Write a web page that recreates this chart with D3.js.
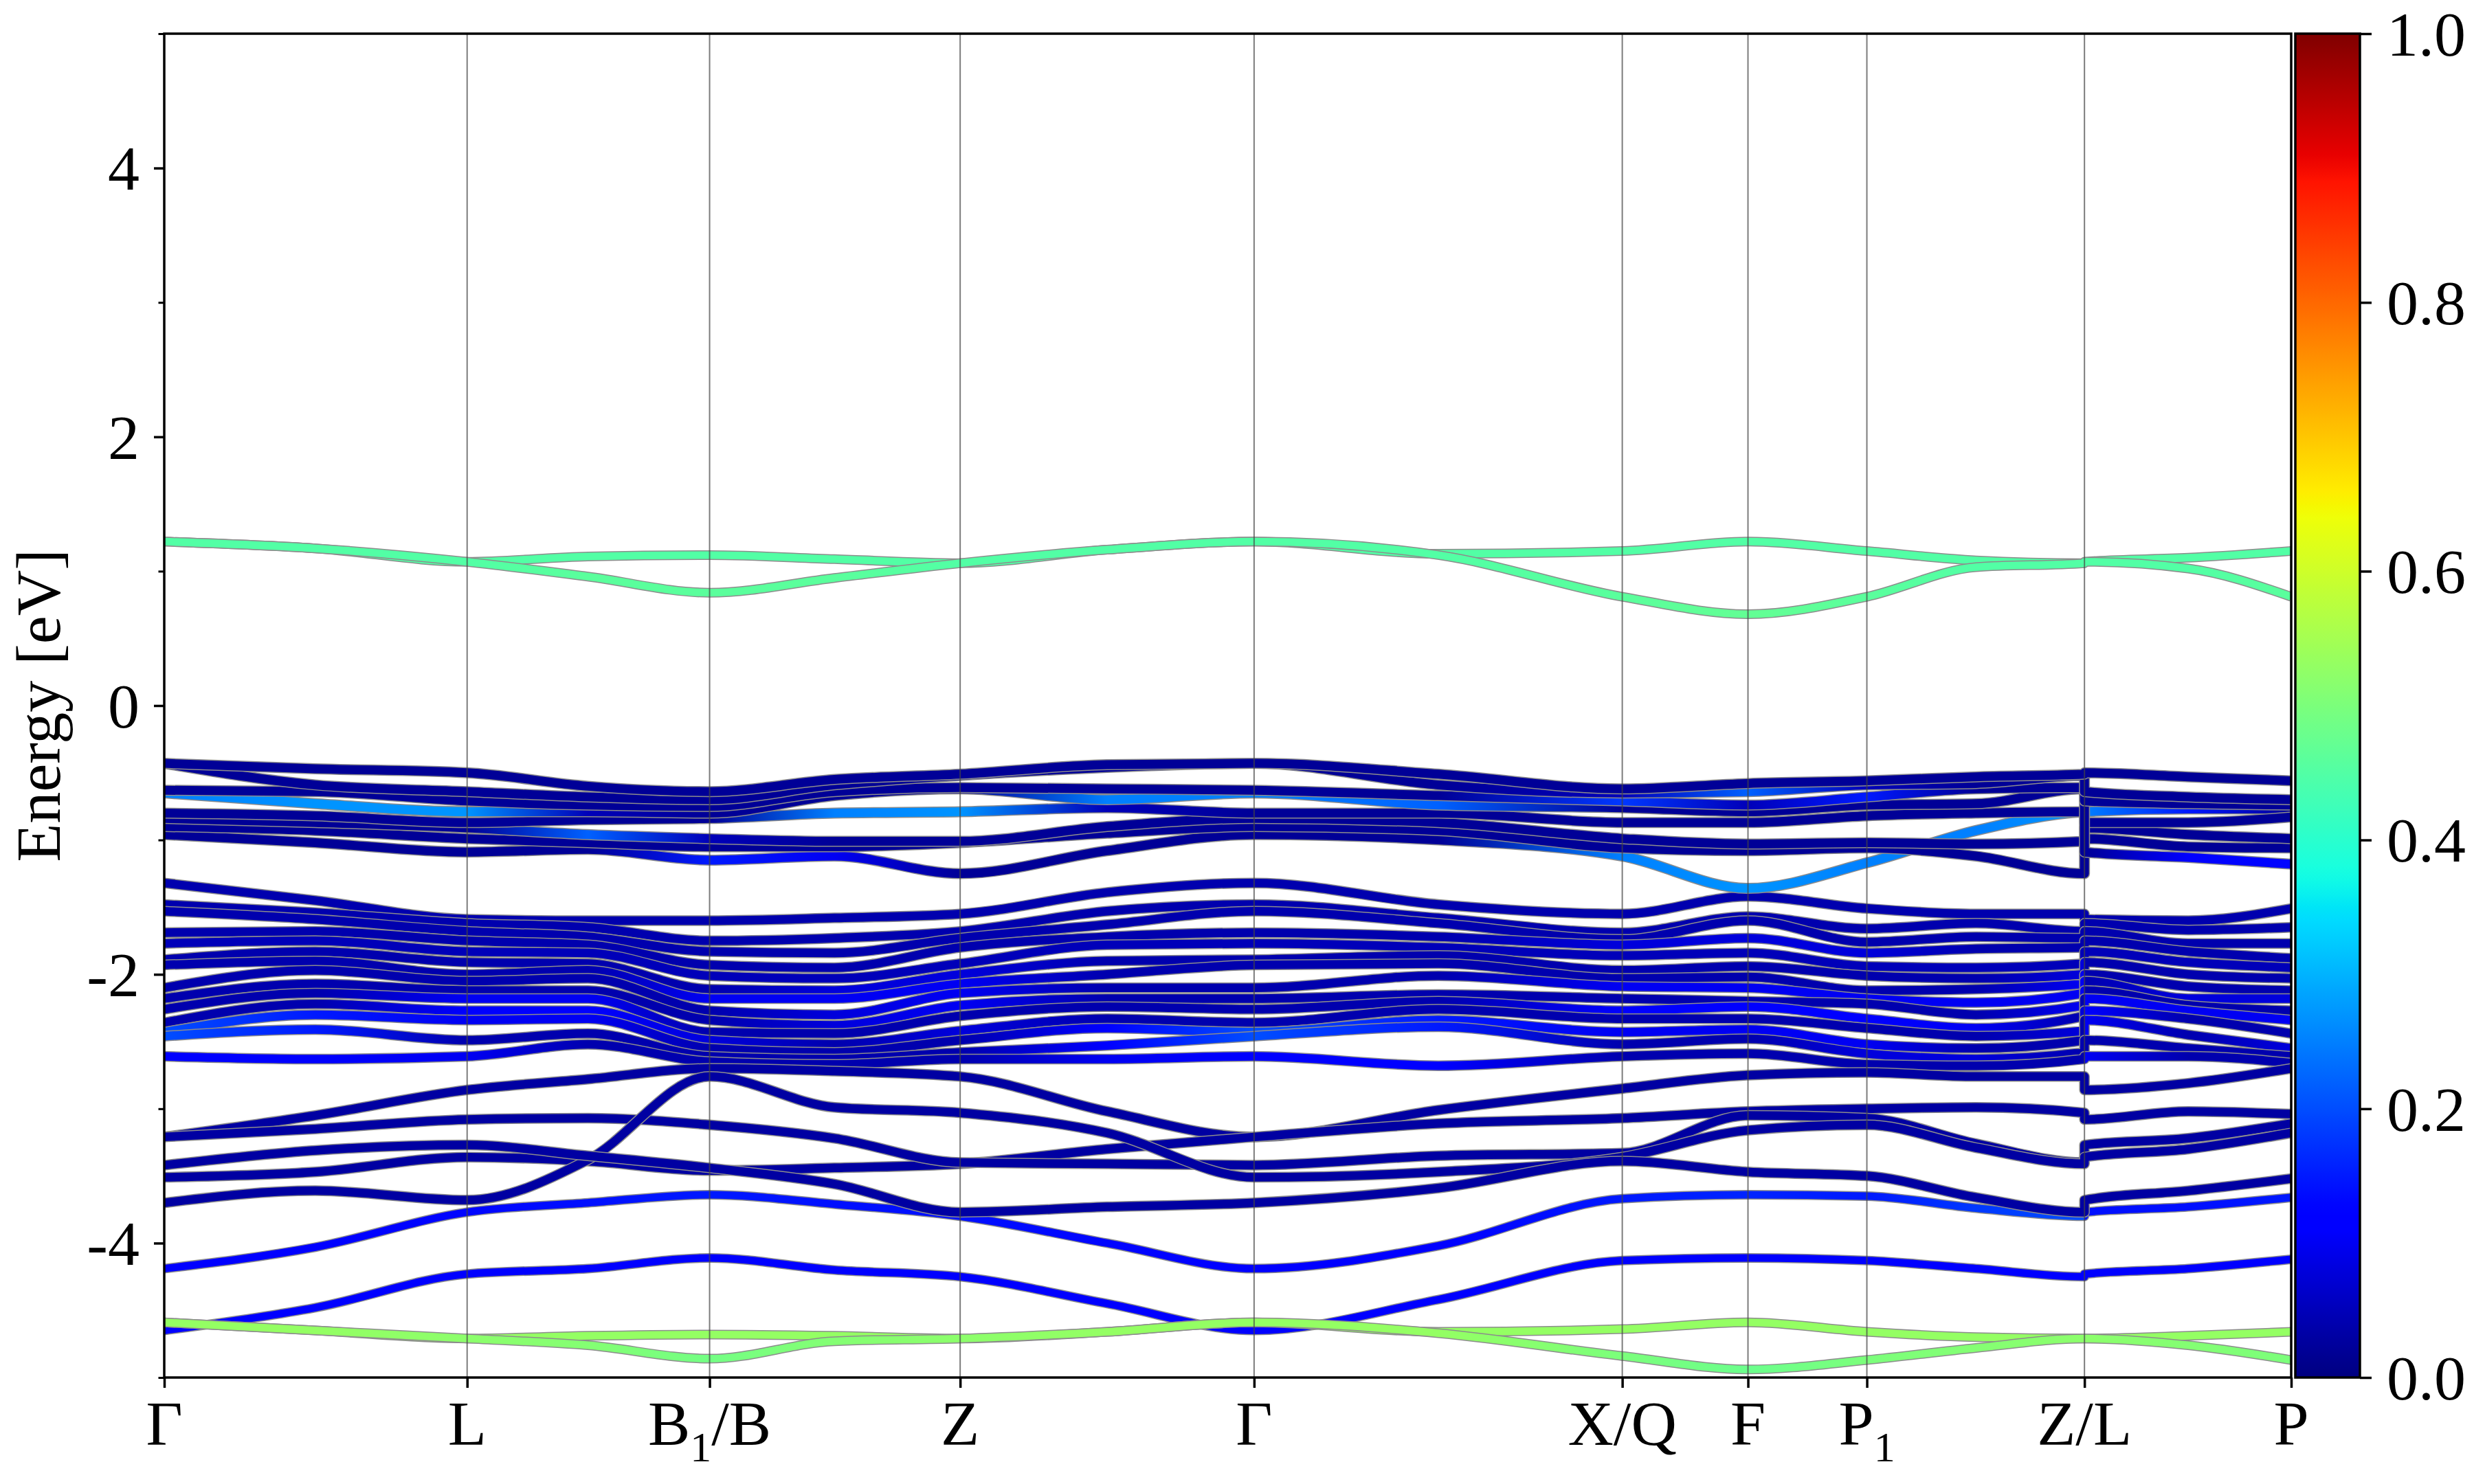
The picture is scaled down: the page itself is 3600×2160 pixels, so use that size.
<!DOCTYPE html>
<html><head><meta charset="utf-8">
<script src="https://cdn.jsdelivr.net/npm/d3@7/dist/d3.min.js"></script>
<style>
html,body{margin:0;padding:0;background:#fff;}
svg{display:block;}
</style></head><body>
<svg id="chart" width="3600" height="2160"></svg>
<script>
// ---------------- DATA ----------------
const kLabels = ["Γ","L","B_1/B","Z","Γ","X/Q","F","P_1","Z/L","P"];
const kTicks  = [0, 0.1424, 0.2564, 0.3742, 0.5124, 0.6855, 0.7446, 0.8005, 0.9028, 1.0];
// sampling points along the path (Z/L appears twice: end of Z branch, start of L branch)
const kNodes  = [0, 0.0710, 0.1424, 0.1992, 0.2564, 0.3151, 0.3742, 0.4433, 0.5124, 0.5990,
                 0.6855, 0.7446, 0.8005, 0.8518, 0.9028, 0.9028, 0.9516, 1.0];
const yMajor  = [-4, -2, 0, 2, 4];
const yMinor  = [-5, -3, -1, 1, 3, 5];
const cbTicks = [0, 0.2, 0.4, 0.6, 0.8, 1.0];

const conductionBands = [
 [1.22,1.17,1.07,1.11,1.12,1.09,1.06,1.16,1.22,1.13,1.15,1.22,1.15,1.08,1.06,1.07,1.10,1.15],
 [1.22,1.17,1.07,0.96,0.84,0.95,1.06,1.16,1.22,1.12,0.81,0.68,0.81,1.03,1.06,1.07,1.02,0.81]
];
const conductionWeights = [
 [0.45,0.45,0.45,0.45,0.45,0.45,0.45,0.45,0.45,0.45,0.45,0.45,0.45,0.45,0.45,0.45,0.45,0.45],
 [0.45,0.45,0.45,0.46,0.46,0.46,0.45,0.45,0.45,0.45,0.46,0.47,0.46,0.45,0.45,0.45,0.45,0.46]
];

const topBands = [
 [-0.43,-0.47,-0.50,-0.60,-0.64,-0.55,-0.51,-0.44,-0.43,-0.51,-0.62,-0.58,-0.56,-0.53,-0.51,-0.50,-0.53,-0.56],
 [-0.43,-0.59,-0.64,-0.68,-0.70,-0.59,-0.52,-0.46,-0.43,-0.59,-0.65,-0.64,-0.59,-0.58,-0.52,-0.64,-0.68,-0.70],
 [-0.63,-0.64,-0.71,-0.74,-0.75,-0.64,-0.61,-0.62,-0.63,-0.67,-0.71,-0.74,-0.68,-0.62,-0.61,-0.71,-0.73,-0.74],
 [-0.65,-0.73,-0.79,-0.79,-0.80,-0.67,-0.62,-0.70,-0.65,-0.74,-0.76,-0.79,-0.74,-0.73,-0.62,-1.09,-1.13,-1.18],
 [-0.80,-0.82,-0.87,-0.85,-0.84,-0.80,-0.79,-0.76,-0.80,-0.80,-0.87,-0.87,-0.82,-0.80,-0.79,-0.87,-0.87,-0.83],
 [-0.84,-0.87,-0.91,-0.96,-0.99,-1.01,-1.01,-0.90,-0.84,-0.87,-0.99,-1.03,-1.02,-1.03,-1.01,-0.91,-0.96,-0.99],
 [-0.90,-0.93,-0.99,-1.02,-1.05,-1.05,-1.02,-0.95,-0.90,-0.93,-1.06,-1.08,-1.06,-1.12,-1.25,-0.99,-1.05,-1.06],
 [-0.96,-1.02,-1.09,-1.07,-1.15,-1.12,-1.25,-1.08,-0.96,-1.00,-1.12,-1.36,-1.17,-0.93,-0.79,-0.79,-0.77,-0.77]
];
const topWeights = [
 [0.02,0.02,0.02,0.02,0.02,0.02,0.02,0.02,0.02,0.02,0.02,0.02,0.02,0.02,0.02,0.02,0.02,0.02],
 [0.02,0.02,0.02,0.02,0.02,0.02,0.02,0.02,0.02,0.02,0.05,0.22,0.05,0.02,0.02,0.02,0.02,0.02],
 [0.02,0.02,0.02,0.02,0.02,0.02,0.02,0.02,0.02,0.02,0.18,0.05,0.15,0.02,0.02,0.02,0.02,0.02],
 [0.25,0.27,0.27,0.05,0.02,0.02,0.02,0.25,0.25,0.22,0.02,0.02,0.02,0.02,0.02,0.02,0.12,0.13],
 [0.02,0.02,0.02,0.02,0.02,0.25,0.27,0.05,0.02,0.02,0.02,0.02,0.02,0.02,0.02,0.02,0.02,0.02],
 [0.02,0.02,0.02,0.22,0.05,0.02,0.02,0.02,0.02,0.02,0.02,0.02,0.02,0.02,0.02,0.02,0.02,0.02],
 [0.02,0.02,0.02,0.02,0.02,0.02,0.02,0.02,0.02,0.02,0.02,0.02,0.02,0.02,0.02,0.02,0.02,0.02],
 [0.02,0.02,0.02,0.02,0.15,0.10,0.02,0.02,0.02,0.02,0.25,0.27,0.25,0.25,0.27,0.25,0.15,0.02]
];

const middleBands = [
 [-1.32,-1.45,-1.59,-1.60,-1.60,-1.58,-1.55,-1.39,-1.32,-1.48,-1.55,-1.42,-1.51,-1.55,-1.55,-1.59,-1.60,-1.51],
 [-1.48,-1.54,-1.62,-1.65,-1.75,-1.73,-1.68,-1.53,-1.48,-1.58,-1.69,-1.57,-1.66,-1.62,-1.68,-1.62,-1.67,-1.65],
 [-1.53,-1.59,-1.68,-1.72,-1.83,-1.84,-1.73,-1.63,-1.53,-1.62,-1.74,-1.60,-1.76,-1.72,-1.73,-1.68,-1.77,-1.77],
 [-1.69,-1.68,-1.75,-1.78,-1.93,-1.95,-1.80,-1.72,-1.69,-1.72,-1.78,-1.73,-1.84,-1.81,-1.80,-1.75,-1.83,-1.88],
 [-1.77,-1.75,-1.83,-1.84,-2.01,-2.03,-1.92,-1.78,-1.77,-1.80,-1.86,-1.84,-1.94,-1.95,-1.92,-1.83,-1.91,-1.95],
 [-1.89,-1.83,-1.91,-1.92,-2.11,-2.12,-2.00,-1.90,-1.89,-1.86,-1.97,-1.94,-2.01,-2.03,-2.00,-1.91,-2.00,-2.03],
 [-1.93,-1.90,-2.00,-1.97,-2.18,-2.18,-2.07,-2.00,-1.93,-1.92,-2.03,-2.02,-2.12,-2.11,-2.07,-2.00,-2.09,-2.12],
 [-2.10,-1.97,-2.05,-2.03,-2.27,-2.30,-2.14,-2.10,-2.10,-2.01,-2.09,-2.10,-2.18,-2.21,-2.14,-2.05,-2.18,-2.18],
 [-2.18,-2.07,-2.12,-2.12,-2.34,-2.38,-2.23,-2.18,-2.18,-2.15,-2.18,-2.20,-2.22,-2.30,-2.23,-2.12,-2.23,-2.27],
 [-2.26,-2.14,-2.18,-2.18,-2.43,-2.44,-2.31,-2.24,-2.26,-2.20,-2.27,-2.24,-2.33,-2.40,-2.31,-2.18,-2.27,-2.34],
 [-2.36,-2.22,-2.27,-2.27,-2.49,-2.52,-2.42,-2.33,-2.36,-2.26,-2.33,-2.33,-2.40,-2.46,-2.42,-2.27,-2.33,-2.44],
 [-2.43,-2.30,-2.34,-2.33,-2.55,-2.58,-2.49,-2.40,-2.43,-2.34,-2.43,-2.41,-2.52,-2.55,-2.49,-2.34,-2.45,-2.55],
 [-2.46,-2.41,-2.49,-2.44,-2.61,-2.63,-2.58,-2.53,-2.46,-2.39,-2.52,-2.48,-2.59,-2.63,-2.58,-2.49,-2.55,-2.61],
 [-2.61,-2.63,-2.61,-2.52,-2.65,-2.67,-2.63,-2.63,-2.61,-2.68,-2.61,-2.59,-2.67,-2.68,-2.63,-2.61,-2.61,-2.66],
 [-3.21,-3.05,-2.86,-2.78,-2.70,-2.72,-2.76,-3.02,-3.21,-3.01,-2.85,-2.75,-2.73,-2.76,-2.76,-2.86,-2.81,-2.70],
 [-3.51,-3.47,-3.36,-3.39,-3.46,-3.44,-3.41,-3.30,-3.21,-3.11,-3.07,-3.02,-3.00,-2.99,-3.03,-3.08,-3.02,-3.04],
 [-3.21,-3.15,-3.08,-3.07,-3.12,-3.22,-3.40,-3.41,-3.42,-3.35,-3.33,-3.05,-3.07,-3.26,-3.40,-3.27,-3.22,-3.11],
 [-3.70,-3.61,-3.68,-3.38,-2.76,-2.99,-3.03,-3.18,-3.51,-3.47,-3.36,-3.16,-3.12,-3.29,-3.41,-3.36,-3.30,-3.18],
 [-3.42,-3.31,-3.27,-3.35,-3.44,-3.56,-3.77,-3.73,-3.70,-3.59,-3.39,-3.47,-3.50,-3.66,-3.77,-3.68,-3.61,-3.52]
];
const middleWeights = [
 [0.04,0.04,0.04,0.04,0.04,0.04,0.04,0.04,0.04,0.04,0.04,0.04,0.04,0.04,0.04,0.04,0.04,0.04],
 [0.04,0.04,0.04,0.04,0.04,0.04,0.04,0.04,0.04,0.04,0.04,0.04,0.04,0.04,0.04,0.04,0.04,0.04],
 [0.04,0.04,0.04,0.04,0.04,0.04,0.04,0.04,0.04,0.04,0.04,0.04,0.04,0.04,0.04,0.04,0.04,0.04],
 [0.04,0.04,0.04,0.04,0.04,0.04,0.04,0.04,0.04,0.04,0.08,0.08,0.08,0.04,0.04,0.04,0.04,0.04],
 [0.05,0.05,0.05,0.05,0.05,0.05,0.05,0.05,0.05,0.05,0.05,0.05,0.05,0.05,0.05,0.05,0.05,0.05],
 [0.04,0.04,0.04,0.04,0.04,0.08,0.08,0.04,0.04,0.04,0.04,0.04,0.04,0.04,0.08,0.04,0.04,0.04],
 [0.04,0.04,0.04,0.04,0.10,0.10,0.10,0.04,0.04,0.04,0.04,0.04,0.04,0.04,0.10,0.04,0.04,0.04],
 [0.04,0.04,0.04,0.04,0.04,0.08,0.10,0.04,0.04,0.04,0.10,0.10,0.10,0.10,0.10,0.04,0.08,0.08],
 [0.04,0.04,0.04,0.04,0.04,0.08,0.10,0.04,0.04,0.04,0.04,0.04,0.04,0.04,0.10,0.04,0.04,0.04],
 [0.04,0.04,0.10,0.10,0.04,0.04,0.04,0.04,0.04,0.04,0.12,0.12,0.12,0.10,0.04,0.10,0.10,0.10],
 [0.04,0.04,0.12,0.12,0.08,0.04,0.08,0.04,0.04,0.04,0.04,0.04,0.04,0.04,0.08,0.12,0.04,0.04],
 [0.20,0.15,0.10,0.10,0.04,0.04,0.04,0.12,0.20,0.15,0.10,0.10,0.10,0.04,0.04,0.10,0.04,0.08],
 [0.20,0.15,0.04,0.04,0.04,0.04,0.04,0.12,0.20,0.15,0.04,0.04,0.08,0.08,0.04,0.04,0.04,0.04],
 [0.12,0.12,0.10,0.04,0.04,0.04,0.04,0.10,0.12,0.12,0.04,0.04,0.04,0.04,0.04,0.10,0.04,0.04],
 [0.03,0.03,0.03,0.03,0.03,0.03,0.03,0.03,0.03,0.03,0.03,0.03,0.03,0.03,0.03,0.03,0.03,0.03],
 [0.03,0.03,0.03,0.03,0.03,0.03,0.03,0.03,0.03,0.03,0.03,0.03,0.03,0.03,0.03,0.03,0.03,0.03],
 [0.03,0.03,0.03,0.03,0.03,0.03,0.03,0.03,0.03,0.03,0.03,0.03,0.03,0.03,0.03,0.03,0.03,0.03],
 [0.03,0.03,0.03,0.03,0.03,0.03,0.03,0.03,0.03,0.03,0.03,0.03,0.03,0.03,0.03,0.03,0.03,0.03],
 [0.03,0.03,0.03,0.03,0.03,0.03,0.03,0.03,0.03,0.03,0.03,0.03,0.03,0.03,0.03,0.03,0.03,0.03]
];

const lowerBlueBands = [
 [-4.19,-4.03,-3.77,-3.70,-3.64,-3.71,-3.80,-4.00,-4.19,-4.02,-3.67,-3.64,-3.65,-3.74,-3.80,-3.77,-3.73,-3.66],
 [-4.65,-4.48,-4.23,-4.19,-4.11,-4.20,-4.25,-4.45,-4.65,-4.42,-4.13,-4.11,-4.13,-4.19,-4.25,-4.23,-4.19,-4.12]
];
const lowerBlueWeights = [
 [0.12,0.12,0.13,0.14,0.15,0.14,0.14,0.13,0.12,0.12,0.15,0.16,0.15,0.18,0.20,0.14,0.14,0.15],
 [0.12,0.12,0.12,0.12,0.12,0.12,0.12,0.12,0.12,0.12,0.12,0.12,0.12,0.12,0.12,0.12,0.12,0.12]
];

const greenBands = [
 [-4.59,-4.65,-4.71,-4.69,-4.68,-4.69,-4.71,-4.66,-4.59,-4.66,-4.64,-4.59,-4.66,-4.70,-4.71,-4.71,-4.69,-4.66],
 [-4.59,-4.65,-4.71,-4.76,-4.86,-4.73,-4.71,-4.66,-4.59,-4.67,-4.84,-4.94,-4.87,-4.78,-4.71,-4.71,-4.76,-4.87]
];
const greenWeights = [
 [0.53,0.53,0.53,0.53,0.53,0.53,0.53,0.53,0.53,0.53,0.53,0.53,0.53,0.53,0.53,0.53,0.53,0.53],
 [0.53,0.53,0.52,0.51,0.49,0.51,0.52,0.53,0.53,0.53,0.50,0.48,0.50,0.51,0.52,0.52,0.51,0.50]
];

// ---------------- RENDERING ----------------
const FONT = '"Liberation Serif","Times New Roman",serif';
const svg = d3.select("#chart");
const plotL = 239, plotR = 3334, plotT = 49, plotB = 2005;
const x = d3.scaleLinear().domain([0, 1]).range([plotL, plotR]);
const y = d3.scaleLinear().domain([-5, 5]).range([plotB, plotT]);

// matplotlib "jet" colormap
const jr = d3.scaleLinear().domain([0,0.35,0.66,0.89,1]).range([0,0,1,1,0.5]).clamp(true);
const jg = d3.scaleLinear().domain([0,0.125,0.375,0.64,0.91,1]).range([0,0,1,1,0,0]).clamp(true);
const jb = d3.scaleLinear().domain([0,0.11,0.34,0.65,1]).range([0.5,1,1,0,0]).clamp(true);
const jet = v => d3.rgb(jr(v)*255, jg(v)*255, jb(v)*255).formatHex();

const bands = [];
function addGroup(vals, wts, name, lw, reverse) {
  const idx = vals.map((v, i) => i);
  if (reverse) idx.reverse();
  idx.forEach(i => bands.push({ id: name + i, e: vals[i], w: wts[i], lw: lw }));
}
addGroup(lowerBlueBands, lowerBlueWeights, "bl", 11, false);
addGroup(middleBands, middleWeights, "m", 12.5, false);
addGroup(topBands, topWeights, "t", 13, true);
addGroup(greenBands, greenWeights, "g", 11, false);
addGroup(conductionBands, conductionWeights, "c", 11, false);

const defs = svg.append("defs");
defs.append("clipPath").attr("id", "plotclip").append("rect")
  .attr("x", plotL).attr("y", plotT).attr("width", plotR - plotL).attr("height", plotB - plotT);

bands.forEach(b => {
  const g = defs.append("linearGradient").attr("id", "grad-" + b.id)
    .attr("gradientUnits", "userSpaceOnUse")
    .attr("x1", x(0)).attr("x2", x(1)).attr("y1", 0).attr("y2", 0);
  kNodes.forEach((k, i) => g.append("stop").attr("offset", k).attr("stop-color", jet(b.w[i])));
});

const line = d3.line().x((d, i) => x(kNodes[i])).y(d => y(d)).curve(d3.curveMonotoneX);

const gBands = svg.append("g").attr("clip-path", "url(#plotclip)");
bands.forEach(b => {
  const d = line(b.e);
  gBands.append("path").attr("d", d).attr("fill", "none")
    .attr("stroke", "#8c8c8c").attr("stroke-width", b.lw + 3).attr("stroke-linejoin", "round");
  gBands.append("path").attr("d", d).attr("fill", "none")
    .attr("stroke", "url(#grad-" + b.id + ")").attr("stroke-width", b.lw).attr("stroke-linejoin", "round");
});

// vertical lines at high-symmetry points
svg.append("g").selectAll("line").data(kTicks.slice(1, -1)).join("line")
  .attr("x1", d => x(d)).attr("x2", d => x(d)).attr("y1", plotT).attr("y2", plotB)
  .attr("stroke", "#444").attr("stroke-opacity", 0.7).attr("stroke-width", 2);

// y axis
const gy = svg.append("g").attr("transform", `translate(${plotL},0)`)
  .call(d3.axisLeft(y).tickValues(yMajor).tickSize(15).tickPadding(21).tickFormat(d => String(d)));
gy.select(".domain").remove();
gy.attr("font-size", 92).attr("font-family", FONT);
gy.selectAll(".tick line").attr("stroke", "#000").attr("stroke-width", 3.5);
gy.selectAll(".tick text").attr("fill", "#000").attr("dy", "0.34em");
const gym = svg.append("g").attr("transform", `translate(${plotL},0)`)
  .call(d3.axisLeft(y).tickValues(yMinor).tickSize(8.5).tickFormat(""));
gym.select(".domain").remove();
gym.selectAll(".tick line").attr("stroke", "#000").attr("stroke-width", 3);

// x axis ticks
const gx = svg.append("g").attr("transform", `translate(0,${plotB})`)
  .call(d3.axisBottom(x).tickValues(kTicks).tickSize(15).tickFormat(""));
gx.select(".domain").remove();
gx.selectAll(".tick line").attr("stroke", "#000").attr("stroke-width", 3.5);

// x tick labels (with subscripts)
kTicks.forEach((k, i) => {
  const t = svg.append("text").attr("x", x(k)).attr("y", 2103)
    .attr("text-anchor", "middle").attr("font-size", 92).attr("font-family", FONT).attr("fill", "#000");
  const parts = kLabels[i].split(/_(\d)/);
  let sub = false;
  parts.forEach((p, j) => {
    if (j % 2 === 1) {
      t.append("tspan").attr("font-size", 62).attr("dy", 24).text(p);
      sub = true;
    } else if (p) {
      const ts = t.append("tspan").text(p);
      if (sub) { ts.attr("dy", -24); sub = false; }
    }
  });
});

// frame
svg.append("rect").attr("x", plotL).attr("y", plotT)
  .attr("width", plotR - plotL).attr("height", plotB - plotT)
  .attr("fill", "none").attr("stroke", "#000").attr("stroke-width", 3.5);

// y label
svg.append("text").attr("transform", `translate(87,${(plotT + plotB) / 2}) rotate(-90)`)
  .attr("text-anchor", "middle").attr("font-size", 92).attr("font-family", FONT)
  .attr("fill", "#000").text("Energy [eV]");

// colorbar
const cbL = 3340, cbR = 3434;
const cbScale = d3.scaleLinear().domain([0, 1]).range([plotB, plotT]);
const cg = defs.append("linearGradient").attr("id", "cbgrad")
  .attr("x1", 0).attr("y1", 1).attr("x2", 0).attr("y2", 0);
d3.range(0, 101).forEach(i => cg.append("stop").attr("offset", i / 100).attr("stop-color", jet(i / 100)));
svg.append("rect").attr("x", cbL).attr("y", plotT).attr("width", cbR - cbL).attr("height", plotB - plotT)
  .attr("fill", "url(#cbgrad)").attr("stroke", "#000").attr("stroke-width", 3.5);
const gc = svg.append("g").attr("transform", `translate(${cbR},0)`)
  .call(d3.axisRight(cbScale).tickValues(cbTicks).tickSize(17).tickPadding(22).tickFormat(d3.format(".1f")));
gc.select(".domain").remove();
gc.attr("font-size", 92).attr("font-family", FONT);
gc.selectAll(".tick line").attr("stroke", "#000").attr("stroke-width", 3.5);
gc.selectAll(".tick text").attr("fill", "#000").attr("dy", "0.34em");
</script>
</body></html>
